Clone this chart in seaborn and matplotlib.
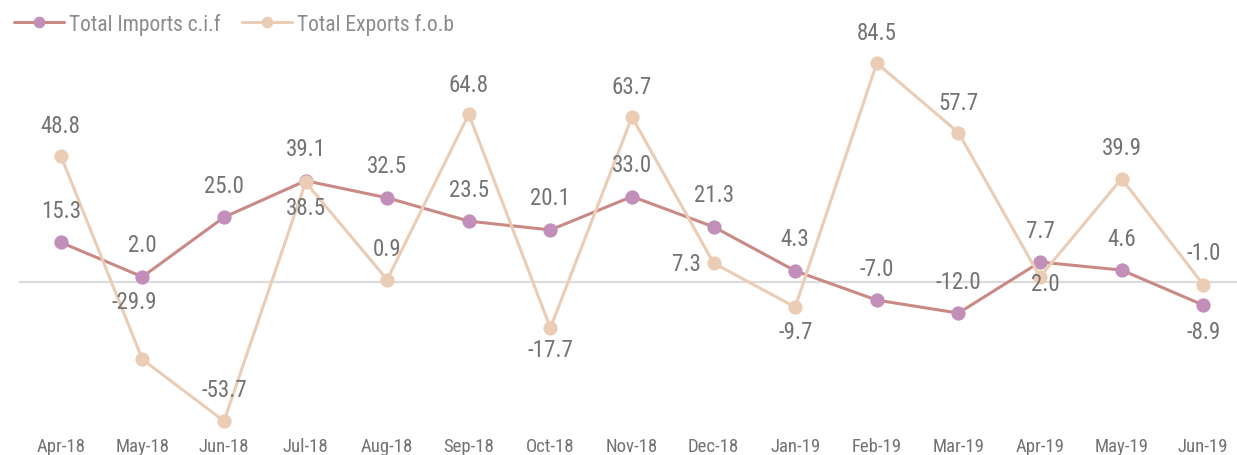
import matplotlib
matplotlib.use('Agg')
import matplotlib.pyplot as plt
from matplotlib import font_manager
from matplotlib.ticker import FixedLocator
import numpy as np
import pandas as pd
import seaborn as sns

# --- Data ---
MONTHS = ['Apr-18', 'May-18', 'Jun-18', 'Jul-18', 'Aug-18', 'Sep-18', 'Oct-18', 'Nov-18',
          'Dec-18', 'Jan-19', 'Feb-19', 'Mar-19', 'Apr-19', 'May-19', 'Jun-19']
IMPORTS = [15.3, 2.0, 25.0, 39.1, 32.5, 23.5, 20.1, 33.0, 21.3, 4.3, -7.0, -12.0, 7.7, 4.6, -8.9]
EXPORTS = [48.8, -29.9, -53.7, 38.5, 0.9, 64.8, -17.7, 63.7, 7.3, -9.7, 84.5, 57.7, 2.0, 39.9, -1.0]

# label offsets in pixels (dx, dy), dy negative = above
IMPORTS_LABEL_OFF = [(0, -32)] * 14 + [(0, 26)]
EXPORTS_LABEL_OFF = [(0, -30), (-8, -58), (0, -32), (0, 25), (0, -31), (0, -30), (0, 22), (0, -31),
                     (-21, 0), (0, 24), (0, -31), (0, -30), (5, 7), (0, -31), (0, -32)]

# --- Style ---
IMP_LINE = '#C98A86'
IMP_MARK = '#C18FBA'
EXP_LINE = '#EBCDB6'
EXP_MARK = '#EBCDB6'
TEXT = '#737373'
AXIS = '#DCDCDC'

sns.set_theme(style='white')
names = {f.name for f in font_manager.fontManager.ttflist}
family = 'Roboto'
for cand in ['Roboto Condensed', 'Roboto']:
    if cand in names:
        family = cand
        break
plt.rcParams['font.family'] = [family, 'DejaVu Sans']

fig = plt.figure(figsize=(12.37, 4.56), dpi=100)
W, H = 1237, 456
x0_px, x1_px = 20, 20 + 15 * 81.6
top_px, bot_px = 40, 432
ax = fig.add_axes([x0_px / W, 1 - bot_px / H, (x1_px - x0_px) / W, (bot_px - top_px) / H])

px_per_unit = 2.59
zero_px = 283
ax.set_xlim(-0.5, 14.5)
ax.set_ylim(-(bot_px - zero_px) / px_per_unit, (zero_px - top_px) / px_per_unit)

df = pd.DataFrame({'pos': np.arange(len(MONTHS)), 'month': MONTHS,
                   'imports': IMPORTS, 'exports': EXPORTS})

sns.lineplot(data=df, x='pos', y='imports', ax=ax, color=IMP_LINE, linewidth=2.2,
             marker='o', markersize=9.5, markerfacecolor=IMP_MARK, markeredgecolor=IMP_MARK,
             label='Total Imports c.i.f', sort=False, zorder=3)
sns.lineplot(data=df, x='pos', y='exports', ax=ax, color=EXP_LINE, linewidth=2.2,
             marker='o', markersize=9.5, markerfacecolor=EXP_MARK, markeredgecolor=EXP_MARK,
             label='Total Exports f.o.b', sort=False, zorder=4)

# data labels
for vals, offs in [(IMPORTS, IMPORTS_LABEL_OFF), (EXPORTS, EXPORTS_LABEL_OFF)]:
    for i, (v, (dx, dy)) in enumerate(zip(vals, offs)):
        ha = 'right' if dx < -10 else 'center'
        ax.annotate(f'{v:.1f}', (i, v), xytext=(dx * 0.72 + (6 if ha == 'right' else 0), -dy * 0.72),
                    textcoords='offset points', ha=ha, va='center',
                    fontsize=16.5, color=TEXT, zorder=5)

# axis line at zero with boundary ticks
for s in ['top', 'right', 'left']:
    ax.spines[s].set_visible(False)
ax.spines['bottom'].set_position(('data', 0))
ax.spines['bottom'].set_color(AXIS)
ax.spines['bottom'].set_linewidth(1.6)
ax.spines['bottom'].set_zorder(1)
ax.set_yticks([])
ax.xaxis.set_major_locator(FixedLocator(np.arange(len(MONTHS))))
ax.xaxis.set_minor_locator(FixedLocator(np.arange(-0.5, len(MONTHS), 1.0)))
ax.tick_params(axis='x', which='major', length=0, labelbottom=False)
ax.tick_params(axis='x', which='minor', length=5, width=1.4, color=AXIS, direction='out')
ax.set_xlabel('')
ax.set_ylabel('')

# month labels at bottom
sec = ax.secondary_xaxis('bottom')
sec.set_xticks(np.arange(len(MONTHS)))
sec.set_xticklabels(MONTHS)
sec.tick_params(length=0, pad=4, labelsize=13.5, labelcolor=TEXT)
sec.spines['bottom'].set_visible(False)

# legend
ax.legend(loc='upper left', bbox_to_anchor=(0.0, 1.0), bbox_transform=fig.transFigure,
          ncol=2, frameon=False, fontsize=15.5, labelcolor='#8C8C90', handlelength=2.3,
          handletextpad=0.25, columnspacing=1.0, borderaxespad=0.25, markerscale=0.8)

fig.savefig('out.png', dpi=100)
